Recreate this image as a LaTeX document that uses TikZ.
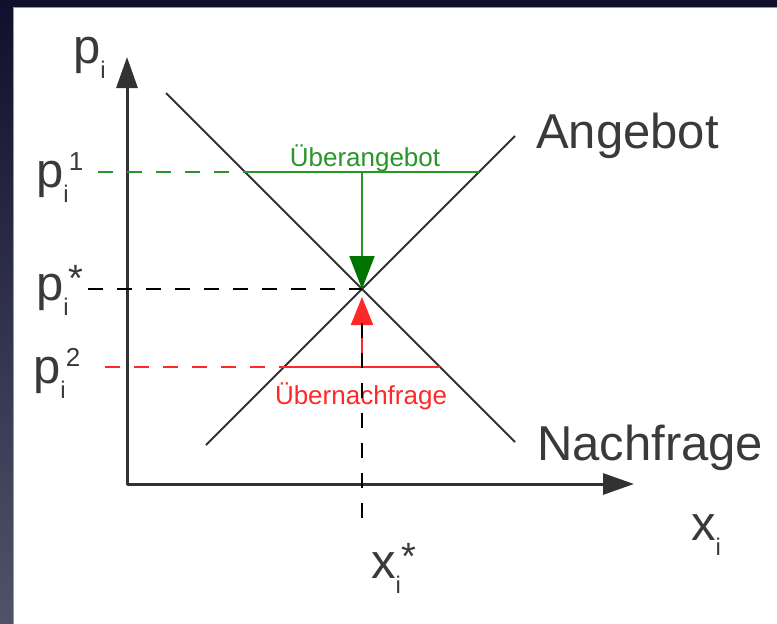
\documentclass[tikz,border=0pt]{standalone}
\usepackage{fontspec}
\setmainfont{Liberation Sans}
\definecolor{FrameDark}{RGB}{16,16,44}
\definecolor{FrameLight}{RGB}{80,82,106}
\definecolor{FrameEdge}{RGB}{150,150,170}
\definecolor{LabelGray}{RGB}{58,58,58}
\definecolor{LineGray}{RGB}{50,50,50}
\definecolor{MarketGreen}{RGB}{40,150,40}
\definecolor{ArrowGreen}{RGB}{0,115,0}
\definecolor{MarketRed}{RGB}{255,40,40}
\usetikzlibrary{arrows.meta,positioning,calc}
\newcommand{\varlbl}[3]{#1\raisebox{-15pt}{\fontsize{24}{24}\selectfont #2}\raisebox{17pt}{\fontsize{26}{26}\selectfont #3}}
\newcommand{\starlbl}[2]{#1\raisebox{-15pt}{\fontsize{24}{24}\selectfont #2}\raisebox{9pt}{\fontsize{38}{38}\selectfont *}}

\begin{document}
\begin{tikzpicture}[x=1pt,y=-1pt,
  lbl/.style={LabelGray,inner sep=0pt,anchor=base west,font=\fontsize{49}{55}\selectfont},
  curve/.style={LineGray,line width=1.8pt},
  level/.style={line width=2pt,dash pattern=on 15pt off 14pt}]
\useasboundingbox (0,0) rectangle (777,624);
% frame
\fill[FrameDark] (0,0) rectangle (777,7);
\shade[top color=FrameDark,bottom color=FrameLight] (0,0) rectangle (13,624);
\draw[FrameEdge,line width=1pt] (13.5,624) -- (13.5,7.5) -- (777,7.5);
% points
\coordinate (O) at (127,484);
\coordinate (eq) at (362,289);
% axes
\draw[LineGray,line width=3pt,line join=round,{Triangle[length=31pt,width=21pt]}-{Triangle[length=31pt,width=21pt]}]
  (127,57) -- (O) -- (634,484);
% supply and demand
\draw[curve] (166,93) -- (515,442);
\draw[curve] (206,445) -- (515,136);
% price levels
\draw[level,MarketGreen] (98,172) -- (245,172);
\draw[MarketGreen,line width=2pt] (245,172) -- (479,172);
\draw[level,MarketRed] (105,367) -- (284,367);
\draw[MarketRed,line width=2pt] (284,367) -- (440,367);
\draw[level,black] (88,289) -- (eq);
% labels
\node[MarketGreen,inner sep=0pt,anchor=base,font=\fontsize{26}{26}\selectfont] (surplus) at (365,166) {Überangebot};
\node[MarketRed,inner sep=0pt,anchor=base,font=\fontsize{26}{26}\selectfont] (shortage) at (361,404) {Übernachfrage};
% adjustment
\draw[MarketGreen,line width=2pt,-{Triangle[length=33pt,width=25pt,color=ArrowGreen]}] (362,172) -- (eq);
\draw[MarketRed,line width=2pt,-{Triangle[length=28pt,width=22pt]}] (362,367) -- (362,297);
\draw[black,line width=2pt,dash pattern=on 15pt off 15pt] (362,323) -- (362,522);
% axis and curve labels
\node[lbl] (pAxis) at (73,63) {\varlbl{p}{i}{}};
\node[lbl] (pOne) at (36,187) {\varlbl{p}{i}{1}};
\node[lbl] (pStar) at (36,300) {\starlbl{p}{i}};
\node[lbl] (pTwo) at (33,383) {\varlbl{p}{i}{2}};
\node[lbl] (xAxis) at (691,540) {\varlbl{x}{i}{}};
\node[lbl] (xStar) at (371,578) {\starlbl{x}{i}};
\node[lbl] (supply) at (536,148) {Angebot};
\node[lbl] (demand) at (537,460) {Nachfrage};
\end{tikzpicture}
\end{document}
